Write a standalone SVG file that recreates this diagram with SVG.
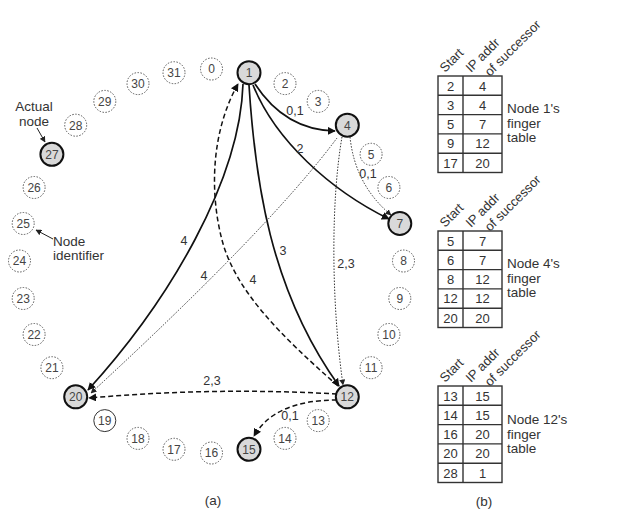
<svg xmlns="http://www.w3.org/2000/svg" width="640" height="514" viewBox="0 0 640 514">
<style>
text{font-family:"Liberation Sans",Arial,sans-serif;fill:#333}
.id{font-size:12px;text-anchor:middle;fill:#444}
.v circle{fill:none;stroke:#555;stroke-width:1;stroke-dasharray:1.5 1.5}
.a circle{fill:#d9d9d9;stroke:#111;stroke-width:2}
.lb{font-size:12.5px;text-anchor:middle}
.cap{font-size:13.5px}
.tb{fill:#fff;stroke:#333;stroke-width:1.4}
.tc{font-size:13px;text-anchor:middle}
.hd{font-size:13px}
.solid{fill:none;stroke:#111;stroke-width:1.7}
.dash{fill:none;stroke:#111;stroke-width:1.5;stroke-dasharray:5 3}
.dot{fill:none;stroke:#333;stroke-width:1;stroke-dasharray:1.5 1.5}
</style>
<defs>
<marker id="ah" viewBox="0 0 10 10" refX="9" refY="5" markerWidth="8" markerHeight="8" markerUnits="userSpaceOnUse" orient="auto">
<path d="M0,0 L10,5 L0,10 z" fill="#111"/>
</marker>
<marker id="ahs" viewBox="0 0 10 10" refX="9" refY="5" markerWidth="6" markerHeight="6" markerUnits="userSpaceOnUse" orient="auto">
<path d="M0,0 L10,5 L0,10 z" fill="#222"/>
</marker>
</defs>
<rect width="640" height="514" fill="#fff"/>

<g id="connectors">
<path class="solid" d="M255,84 Q285,130 335,131" marker-end="url(#ah)"/>
<path class="solid" d="M253,85 C275,140 330,190 389,219" marker-end="url(#ah)"/>
<path class="solid" d="M249,85 C255,180 270,290 339,386" marker-end="url(#ah)"/>
<path class="solid" d="M243,84 C240,180 170,300 88,390" marker-end="url(#ah)"/>
<path class="dash" d="M338,386 C280,335 235,290 222,240 C209,190 212,130 238,84" marker-end="url(#ah)"/>
<path class="dash" d="M337,394 Q213,387 89,398" marker-end="url(#ah)"/>
<path class="dash" d="M337,400 Q275,400 254,436" marker-end="url(#ah)"/>
<path class="dot" d="M350,137 Q355,185 391,215" marker-end="url(#ahs)"/>
<path class="dot" d="M342,137 C331,200 331,300 343,385" marker-end="url(#ahs)"/>
<path class="dot" d="M337,138 Q270,228 91,393" marker-end="url(#ahs)"/>
<path fill="none" stroke="#222" stroke-width="1" d="M37,128 L45,142" marker-end="url(#ahs)"/>
<path fill="none" stroke="#222" stroke-width="1" d="M53,239 L36,230" marker-end="url(#ahs)"/>
</g>

<g id="edge-labels">
<text class="lb" x="295" y="115">0,1</text>
<text class="lb" x="300" y="153">2</text>
<text class="lb" x="283" y="255">3</text>
<text class="lb" x="184" y="245">4</text>
<text class="lb" x="204" y="280">4</text>
<text class="lb" x="253" y="284">4</text>
<text class="lb" x="368" y="178">0,1</text>
<text class="lb" x="346" y="268">2,3</text>
<text class="lb" x="212" y="385">2,3</text>
<text class="lb" x="290" y="420">0,1</text>
</g>

<g id="node-0" class="v"><circle cx="211.5" cy="69" r="11"/><text class="id" x="211.5" y="73.3">0</text></g>
<g id="node-1" class="a"><circle cx="249" cy="72.7" r="11.5"/><text class="id" x="249" y="77">1</text></g>
<g id="node-2" class="v"><circle cx="285" cy="83.6" r="11"/><text class="id" x="285" y="87.9">2</text></g>
<g id="node-3" class="v"><circle cx="318.2" cy="101.4" r="11"/><text class="id" x="318.2" y="105.7">3</text></g>
<g id="node-4" class="a"><circle cx="347.3" cy="125.2" r="11.5"/><text class="id" x="347.3" y="129.5">4</text></g>
<g id="node-5" class="v"><circle cx="371.1" cy="154.3" r="11"/><text class="id" x="371.1" y="158.6">5</text></g>
<g id="node-6" class="v"><circle cx="388.9" cy="187.5" r="11"/><text class="id" x="388.9" y="191.8">6</text></g>
<g id="node-7" class="a"><circle cx="399.8" cy="223.5" r="11.5"/><text class="id" x="399.8" y="227.8">7</text></g>
<g id="node-8" class="v"><circle cx="403.5" cy="261" r="11"/><text class="id" x="403.5" y="265.3">8</text></g>
<g id="node-9" class="v"><circle cx="399.8" cy="298.5" r="11"/><text class="id" x="399.8" y="302.8">9</text></g>
<g id="node-10" class="v"><circle cx="388.9" cy="334.5" r="11"/><text class="id" x="388.9" y="338.8">10</text></g>
<g id="node-11" class="v"><circle cx="371.1" cy="367.7" r="11"/><text class="id" x="371.1" y="372">11</text></g>
<g id="node-12" class="a"><circle cx="347.3" cy="396.8" r="11.5"/><text class="id" x="347.3" y="401.1">12</text></g>
<g id="node-13" class="v"><circle cx="318.2" cy="420.6" r="11"/><text class="id" x="318.2" y="424.9">13</text></g>
<g id="node-14" class="v"><circle cx="285" cy="438.4" r="11"/><text class="id" x="285" y="442.7">14</text></g>
<g id="node-15" class="a"><circle cx="249" cy="449.3" r="11.5"/><text class="id" x="249" y="453.6">15</text></g>
<g id="node-16" class="v"><circle cx="211.5" cy="453" r="11"/><text class="id" x="211.5" y="457.3">16</text></g>
<g id="node-17" class="v"><circle cx="174" cy="449.3" r="11"/><text class="id" x="174" y="453.6">17</text></g>
<g id="node-18" class="v"><circle cx="138" cy="438.4" r="11"/><text class="id" x="138" y="442.7">18</text></g>
<g id="node-19"><circle cx="104.8" cy="420.6" r="11" fill="none" stroke="#333" stroke-width="1"/><text class="id" x="104.8" y="424.9">19</text></g>
<g id="node-20" class="a"><circle cx="75.7" cy="396.8" r="11.5"/><text class="id" x="75.7" y="401.1">20</text></g>
<g id="node-21" class="v"><circle cx="51.9" cy="367.7" r="11"/><text class="id" x="51.9" y="372">21</text></g>
<g id="node-22" class="v"><circle cx="34.1" cy="334.5" r="11"/><text class="id" x="34.1" y="338.8">22</text></g>
<g id="node-23" class="v"><circle cx="23.2" cy="298.5" r="11"/><text class="id" x="23.2" y="302.8">23</text></g>
<g id="node-24" class="v"><circle cx="19.5" cy="261" r="11"/><text class="id" x="19.5" y="265.3">24</text></g>
<g id="node-25" class="v"><circle cx="23.2" cy="223.5" r="11"/><text class="id" x="23.2" y="227.8">25</text></g>
<g id="node-26" class="v"><circle cx="34.1" cy="187.5" r="11"/><text class="id" x="34.1" y="191.8">26</text></g>
<g id="node-27" class="a"><circle cx="51.9" cy="154.3" r="11.5"/><text class="id" x="51.9" y="158.6">27</text></g>
<g id="node-28" class="v"><circle cx="75.7" cy="125.2" r="11"/><text class="id" x="75.7" y="129.5">28</text></g>
<g id="node-29" class="v"><circle cx="104.8" cy="101.4" r="11"/><text class="id" x="104.8" y="105.7">29</text></g>
<g id="node-30" class="v"><circle cx="138" cy="83.6" r="11"/><text class="id" x="138" y="87.9">30</text></g>
<g id="node-31" class="v"><circle cx="174" cy="72.7" r="11"/><text class="id" x="174" y="77">31</text></g>

<g id="annotations">
<text class="cap" x="34" y="111" text-anchor="middle">Actual</text>
<text class="cap" x="34" y="126" text-anchor="middle">node</text>
<text class="cap" x="53" y="246">Node</text>
<text class="cap" x="53" y="260">identifier</text>
<text class="cap" x="213" y="505" text-anchor="middle">(a)</text>
<text class="cap" x="484" y="506" text-anchor="middle">(b)</text>
</g>

<g id="table-1">
<text class="hd" transform="translate(445,73) rotate(-45)">Start</text>
<text class="hd" transform="translate(471,73) rotate(-45)">IP addr</text>
<text class="hd" transform="translate(490,77) rotate(-45)">of successor</text>
<rect class="tb" x="438" y="76" width="64" height="96.5"/>
<path stroke="#333" stroke-width="1.4" d="M463,76 V172.5 M438,95.3 H502 M438,114.6 H502 M438,133.9 H502 M438,153.2 H502"/>
<text class="tc" x="450.5" y="90.5">2</text><text class="tc" x="482.5" y="90.5">4</text>
<text class="tc" x="450.5" y="109.8">3</text><text class="tc" x="482.5" y="109.8">4</text>
<text class="tc" x="450.5" y="129.1">5</text><text class="tc" x="482.5" y="129.1">7</text>
<text class="tc" x="450.5" y="148.4">9</text><text class="tc" x="482.5" y="148.4">12</text>
<text class="tc" x="450.5" y="167.7">17</text><text class="tc" x="482.5" y="167.7">20</text>
<text class="cap" x="507" y="113">Node 1's</text>
<text class="cap" x="507" y="127.5">finger</text>
<text class="cap" x="507" y="142">table</text>
</g>

<g id="table-2">
<text class="hd" transform="translate(445,228) rotate(-45)">Start</text>
<text class="hd" transform="translate(471,228) rotate(-45)">IP addr</text>
<text class="hd" transform="translate(490,232) rotate(-45)">of successor</text>
<rect class="tb" x="438" y="231" width="64" height="96.5"/>
<path stroke="#333" stroke-width="1.4" d="M463,231 V327.5 M438,250.3 H502 M438,269.6 H502 M438,288.9 H502 M438,308.2 H502"/>
<text class="tc" x="450.5" y="245.5">5</text><text class="tc" x="482.5" y="245.5">7</text>
<text class="tc" x="450.5" y="264.8">6</text><text class="tc" x="482.5" y="264.8">7</text>
<text class="tc" x="450.5" y="284.1">8</text><text class="tc" x="482.5" y="284.1">12</text>
<text class="tc" x="450.5" y="303.4">12</text><text class="tc" x="482.5" y="303.4">12</text>
<text class="tc" x="450.5" y="322.7">20</text><text class="tc" x="482.5" y="322.7">20</text>
<text class="cap" x="507" y="268">Node 4's</text>
<text class="cap" x="507" y="282.5">finger</text>
<text class="cap" x="507" y="297">table</text>
</g>

<g id="table-3">
<text class="hd" transform="translate(445,383) rotate(-45)">Start</text>
<text class="hd" transform="translate(471,383) rotate(-45)">IP addr</text>
<text class="hd" transform="translate(490,387) rotate(-45)">of successor</text>
<rect class="tb" x="438" y="386" width="64" height="96.5"/>
<path stroke="#333" stroke-width="1.4" d="M463,386 V482.5 M438,405.3 H502 M438,424.6 H502 M438,443.9 H502 M438,463.2 H502"/>
<text class="tc" x="450.5" y="400.5">13</text><text class="tc" x="482.5" y="400.5">15</text>
<text class="tc" x="450.5" y="419.8">14</text><text class="tc" x="482.5" y="419.8">15</text>
<text class="tc" x="450.5" y="439.1">16</text><text class="tc" x="482.5" y="439.1">20</text>
<text class="tc" x="450.5" y="458.4">20</text><text class="tc" x="482.5" y="458.4">20</text>
<text class="tc" x="450.5" y="477.7">28</text><text class="tc" x="482.5" y="477.7">1</text>
<text class="cap" x="507" y="424">Node 12's</text>
<text class="cap" x="507" y="438.5">finger</text>
<text class="cap" x="507" y="453">table</text>
</g>
</svg>
